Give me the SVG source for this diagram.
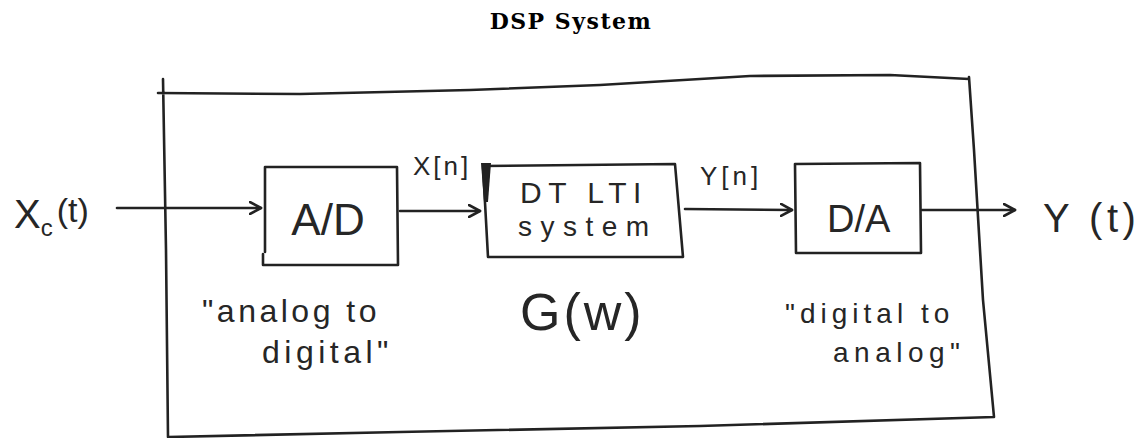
<svg xmlns="http://www.w3.org/2000/svg" width="1142" height="438" viewBox="0 0 1142 438">
<style>
.ink{fill:none;stroke:#222;stroke-width:2.6;stroke-linecap:round;stroke-linejoin:round}
.hw{font-family:"Liberation Sans","DejaVu Sans",sans-serif;fill:#262626}
.title{font-family:"DejaVu Serif","Liberation Serif",serif;font-weight:bold;font-size:22px;letter-spacing:1.5px;fill:#000}
</style>
<defs>
<marker id="arr" viewBox="0 0 14 14" refX="12" refY="7" markerWidth="14" markerHeight="14" markerUnits="userSpaceOnUse" orient="auto">
<path d="M1,1 L12,7 L1,13" fill="none" stroke="#222" stroke-width="2.6" stroke-linejoin="round" stroke-linecap="round"/>
</marker>
</defs>
<rect width="1142" height="438" fill="#fff"/>
<text class="title" x="571" y="29" text-anchor="middle">DSP System</text>

<g id="system-boundary">
<path class="ink" d="M158,93 L300,94 L470,90 L600,85 L750,76 L890,75 L969,79 M969,77 L974,150 L983,300 L994,417 M994,417 L700,426 L400,432 L168,437 M163,79 L166,250 L168,437"/>
</g>

<g id="input">
<text class="hw" x="14" y="228" font-size="40">X<tspan font-size="24" dy="8">c</tspan><tspan font-size="34" dy="-14" dx="4">(t)</tspan></text>
</g>

<g id="ad">
<path class="ink" d="M265,167 L397,167 L398,265 L263,265 L263,254 M265,167 L265,252"/>
<text class="hw" x="328" y="235" font-size="44" text-anchor="middle">A/D</text>
<text class="hw" x="202" y="322" font-size="32" letter-spacing="3.5">"analog to</text>
<text class="hw" x="262" y="363" font-size="32" letter-spacing="4.5">digital"</text>
</g>

<g id="dtlti">
<path class="ink" d="M483,166 L675,164 L683,257 L488,257 Z"/>
<path d="M481,163 L491,163 L488,202 L484,202 Z" fill="#222"/>
<text class="hw" x="520" y="203" font-size="30" letter-spacing="6.5">DT LTI</text>
<text class="hw" x="518" y="236" font-size="28" letter-spacing="8.5">system</text>
<text class="hw" x="520" y="330" font-size="52" letter-spacing="3">G(w)</text>
</g>

<g id="da">
<path class="ink" d="M795,164 L920,163 L921,253 L796,253 Z"/>
<text class="hw" x="827" y="232" font-size="38">D/A</text>
<text class="hw" x="785" y="323" font-size="28" letter-spacing="5">"digital to</text>
<text class="hw" x="833" y="362" font-size="28" letter-spacing="5.5">analog"</text>
</g>

<g id="output">
<text class="hw" x="1043" y="232" font-size="40" letter-spacing="4.5">Y (t)</text>
</g>

<g id="connectors">
<path class="ink" d="M117,208 L261,208" marker-end="url(#arr)"/>
<path class="ink" d="M400,211 L480,211" marker-end="url(#arr)"/>
<text class="hw" x="413" y="175" font-size="26" letter-spacing="3">X[n]</text>
<path class="ink" d="M685,209 L792,210" marker-end="url(#arr)"/>
<text class="hw" x="700" y="185" font-size="26" letter-spacing="4">Y[n]</text>
<path class="ink" d="M922,210 L1015,210" marker-end="url(#arr)"/>
</g>
</svg>
